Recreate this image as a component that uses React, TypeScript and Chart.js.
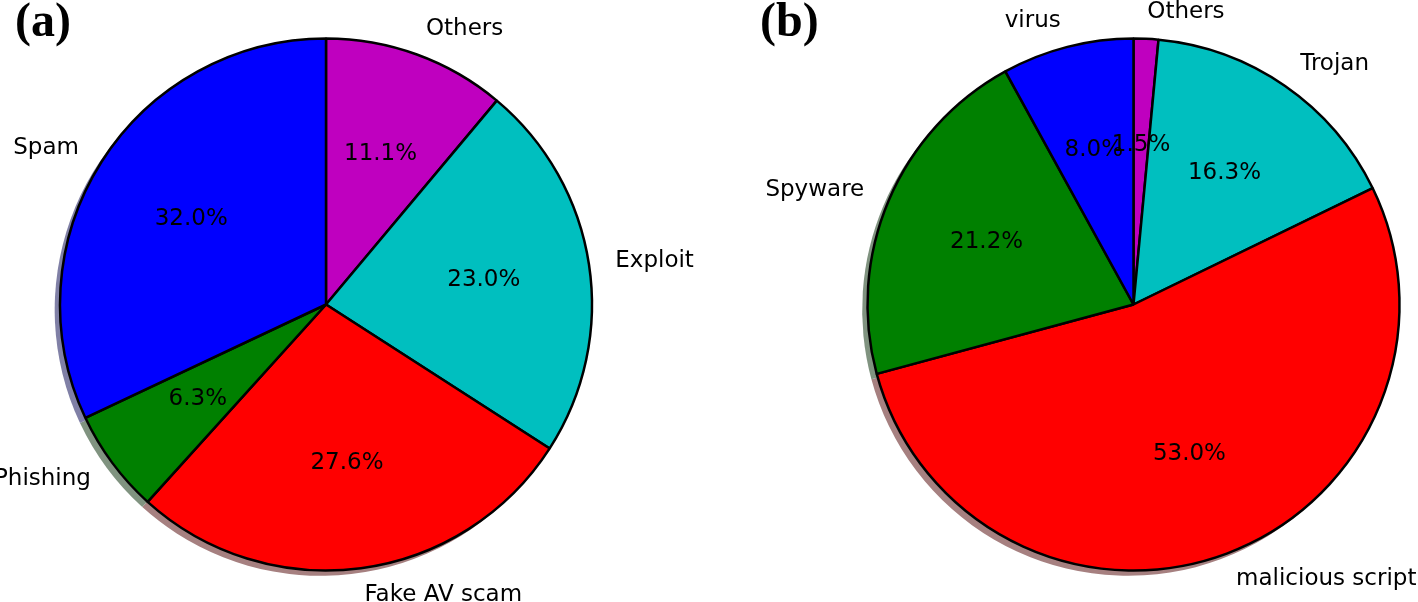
import React, { useEffect, useRef } from 'react';
import { Chart, registerables } from 'chart.js';

Chart.register(...registerables);

// Panel (a): listed counter-clockwise from the top (as read on the picture)
const panelATitle = '(a)';
const panelALabels = ['Spam', 'Phishing', 'Fake AV scam', 'Exploit', 'Others'];
const panelAValues = [32.0, 6.3, 27.6, 23.0, 11.1];

// Panel (b): listed counter-clockwise from the top
const panelBTitle = '(b)';
const panelBLabels = ['virus', 'Spyware', 'malicious script', 'Trojan', 'Others'];
const panelBValues = [8.0, 21.2, 53.0, 16.3, 1.5];

const sliceColors = ['#0000ff', '#008000', '#ff0000', '#00bfbf', '#bf00bf'];

function shadowOf(hex: string): string {
  const r = parseInt(hex.slice(1, 3), 16);
  const g = parseInt(hex.slice(3, 5), 16);
  const b = parseInt(hex.slice(5, 7), 16);
  const f = (c: number) => Math.round(0.15 * c + 127.5);
  return `rgb(${f(r)},${f(g)},${f(b)})`;
}

const LABEL_FONT = '23px "DejaVu Sans"';

const piePlugin = {
  id: 'mplPie',
  beforeDatasetsDraw(chart: any) {
    const ctx = chart.ctx;
    const meta = chart.getDatasetMeta(0);
    const colors = chart.data.datasets[0].backgroundColor as string[];
    ctx.save();
    meta.data.forEach((el: any, i: number) => {
      const { x, y, startAngle, endAngle, outerRadius } = el.getProps(
        ['x', 'y', 'startAngle', 'endAngle', 'outerRadius'],
        true
      );
      const off = 0.02 * outerRadius;
      const sx = x - off;
      const sy = y + off;
      ctx.beginPath();
      ctx.moveTo(sx, sy);
      ctx.arc(sx, sy, outerRadius, startAngle, endAngle);
      ctx.closePath();
      ctx.fillStyle = shadowOf(colors[i]);
      ctx.fill();
    });
    ctx.restore();
  },
  afterDatasetsDraw(chart: any) {
    const ctx = chart.ctx;
    const meta = chart.getDatasetMeta(0);
    const labels = chart.data.labels as string[];
    const values = chart.data.datasets[0].data as number[];
    ctx.save();
    ctx.fillStyle = '#000';
    ctx.font = LABEL_FONT;
    meta.data.forEach((el: any, i: number) => {
      const { x, y, startAngle, endAngle, outerRadius } = el.getProps(
        ['x', 'y', 'startAngle', 'endAngle', 'outerRadius'],
        true
      );
      const mid = (startAngle + endAngle) / 2;
      const c = Math.cos(mid);
      const s = Math.sin(mid);
      // outer label
      ctx.textBaseline = 'middle';
      ctx.textAlign = c > 0 ? 'left' : 'right';
      ctx.fillText(labels[i], x + 1.1 * outerRadius * c, y + 1.1 * outerRadius * s);
      // percentage
      ctx.textAlign = 'center';
      ctx.fillText(values[i].toFixed(1) + '%', x + 0.6 * outerRadius * c, y + 0.6 * outerRadius * s);
    });
    const opts = chart.options.plugins.mplPie;
    ctx.font = 'bold 48px "Liberation Serif"';
    ctx.textAlign = 'left';
    ctx.textBaseline = 'alphabetic';
    ctx.fillText(opts.title, opts.titleX, 36);
    ctx.restore();
  },
};

function makeChart(
  canvas: HTMLCanvasElement,
  labels: string[],
  values: number[],
  title: string,
  titleX: number,
  padding: { left: number; right: number; top: number; bottom: number }
) {
  // Chart.js draws clockwise from the top; the picture runs counter-clockwise
  const l = [...labels].reverse();
  const v = [...values].reverse();
  const c = [...sliceColors].reverse();
  return new Chart(canvas, {
    type: 'pie',
    data: {
      labels: l,
      datasets: [
        {
          data: v,
          backgroundColor: c,
          borderColor: '#000',
          borderWidth: 2.5,
          radius: 266,
          hoverOffset: 0,
        } as any,
      ],
    },
    options: {
      responsive: false,
      animation: false,
      events: [],
      layout: { padding },
      plugins: {
        legend: { display: false },
        tooltip: { enabled: false },
        mplPie: { title, titleX },
      } as any,
    },
    plugins: [piePlugin],
  });
}

export default function App() {
  const refA = useRef<HTMLCanvasElement>(null);
  const refB = useRef<HTMLCanvasElement>(null);

  useEffect(() => {
    const a = makeChart(refA.current!, panelALabels, panelAValues, panelATitle, 15, {
      left: 0,
      right: 57,
      top: 7,
      bottom: 0,
    });
    const b = makeChart(refB.current!, panelBLabels, panelBValues, panelBTitle, 51, {
      left: 140,
      right: 0,
      top: 7,
      bottom: 0,
    });
    return () => {
      a.destroy();
      b.destroy();
    };
  }, []);

  return (
    <div
      style={{
        position: 'absolute',
        left: 0,
        top: 0,
        width: 1418,
        height: 602,
        background: '#fff',
        overflow: 'hidden',
      }}
    >
      <canvas
        ref={refA}
        width={709}
        height={602}
        style={{ position: 'absolute', left: 0, top: 0, width: 709, height: 602 }}
      />
      <canvas
        ref={refB}
        width={709}
        height={602}
        style={{ position: 'absolute', left: 709, top: 0, width: 709, height: 602 }}
      />
    </div>
  );
}
